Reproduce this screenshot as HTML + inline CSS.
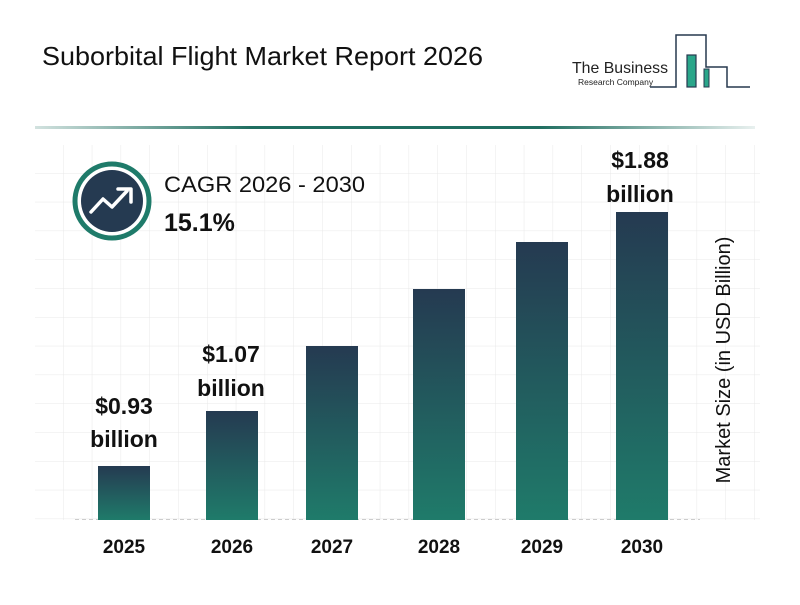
<!DOCTYPE html>
<html><head><meta charset="utf-8"><style>
body{margin:0;width:800px;height:600px;background:#fff;overflow:hidden;font-family:"Liberation Sans",Arial,sans-serif}
</style></head><body>
<svg width="800" height="600" xmlns="http://www.w3.org/2000/svg" font-family="Liberation Sans, Arial, sans-serif">
<defs>
<linearGradient id="g" x1="0" y1="0" x2="0" y2="1"><stop offset="0" stop-color="#253a51"/><stop offset="1" stop-color="#1f7b6a"/></linearGradient>
<linearGradient id="hl" x1="0" y1="0" x2="1" y2="0"><stop offset="0" stop-color="#1f6e60" stop-opacity="0.2"/><stop offset="0.3" stop-color="#1f6e60"/><stop offset="0.7" stop-color="#1f6e60"/><stop offset="1" stop-color="#1f6e60" stop-opacity="0.1"/></linearGradient>
<pattern id="grid" x="63" y="173" width="28.8" height="28.8" patternUnits="userSpaceOnUse"><path d="M0 0H28.8M0 0V28.8" stroke="#e8e8e8" stroke-width="1" fill="none"/></pattern>
</defs>
<text x="42" y="65" font-size="26" fill="#111" textLength="441" lengthAdjust="spacingAndGlyphs">Suborbital Flight Market Report 2026</text>
<text x="572" y="73" font-size="16" fill="#222" textLength="96" lengthAdjust="spacingAndGlyphs">The Business</text>
<text x="578" y="85" font-size="8.5" fill="#222">Research Company</text>
<path d="M650 87H676V35H706V67H727V87H750" fill="none" stroke="#27384f" stroke-width="1.5"/>
<rect x="687" y="55" width="9" height="32" fill="#2aa68a" stroke="#27384f" stroke-width="1.2"/>
<rect x="704" y="69" width="5" height="18" fill="#2aa68a" stroke="#27384f" stroke-width="1"/>
<rect x="35" y="126" width="720" height="3" fill="url(#hl)"/>
<rect x="35" y="145" width="725" height="375" fill="url(#grid)"/>
<line x1="75" y1="519.5" x2="700" y2="519.5" stroke="#ccc" stroke-dasharray="4,3"/>
<rect x="98" y="466" width="52" height="54" fill="url(#g)"/>
<rect x="206" y="411" width="52" height="109" fill="url(#g)"/>
<rect x="306" y="346" width="52" height="174" fill="url(#g)"/>
<rect x="413" y="289" width="52" height="231" fill="url(#g)"/>
<rect x="516" y="242" width="52" height="278" fill="url(#g)"/>
<rect x="616" y="212" width="52" height="308" fill="url(#g)"/>
<g font-size="23" font-weight="bold" fill="#111" text-anchor="middle">
<text x="124" y="414">$0.93</text><text x="124" y="447">billion</text>
<text x="231" y="362">$1.07</text><text x="231" y="396">billion</text>
<text x="640" y="168">$1.88</text><text x="640" y="202">billion</text>
</g>
<g font-size="19" font-weight="bold" fill="#111" text-anchor="middle">
<text x="124" y="553">2025</text><text x="232" y="553">2026</text><text x="332" y="553">2027</text>
<text x="439" y="553">2028</text><text x="542" y="553">2029</text><text x="642" y="553">2030</text>
</g>
<text transform="translate(730,360) rotate(-90)" font-size="20" fill="#111" text-anchor="middle">Market Size (in USD Billion)</text>
<circle cx="112" cy="201" r="37" fill="#fff" stroke="#1f7b6a" stroke-width="5"/>
<circle cx="112" cy="201" r="31" fill="#253a51"/>
<path d="M91 212L103 199L112 207L127 191" fill="none" stroke="#fff" stroke-width="3.5" stroke-linecap="round" stroke-linejoin="round"/>
<path d="M118 189H131V202" fill="none" stroke="#fff" stroke-width="3.5" stroke-linecap="round" stroke-linejoin="round"/>
<text x="164" y="192" font-size="22" fill="#111" textLength="201" lengthAdjust="spacingAndGlyphs">CAGR 2026 - 2030</text>
<text x="164" y="231" font-size="25" font-weight="bold" fill="#111">15.1%</text>
</svg>
</body></html>
